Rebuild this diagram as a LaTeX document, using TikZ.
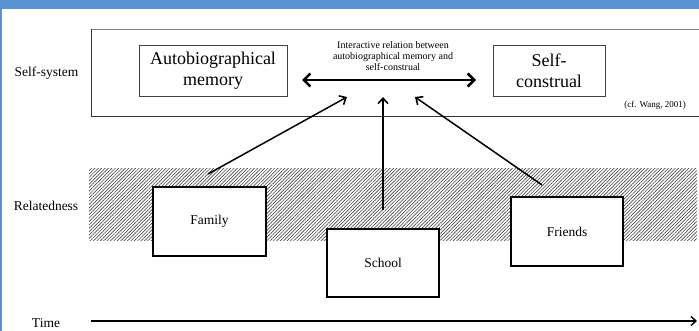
\documentclass[tikz,border=0pt]{standalone}
\usepackage{fontspec}
\setmainfont{Liberation Serif}
\usetikzlibrary{arrows.meta,patterns.meta}
\definecolor{frameblue}{RGB}{90,147,212}
\tikzset{
  lbl/.style={font=\fontsize{13.5}{16}\selectfont, inner sep=0pt},
  bigbox/.style={draw=black!75, line width=0.8pt, fill=white, font=\fontsize{18}{21}\selectfont, align=center, inner sep=0pt},
  ctxbox/.style={draw=black, line width=2pt, fill=white, font=\fontsize{13.5}{16}\selectfont, inner sep=0pt},
  infl/.style={line width=1.5pt, -{Straight Barb[length=5.5pt,width=10pt,line width=1.6pt]}},
  inter/.style={line width=2.8pt, {Straight Barb[length=6.5pt,width=13pt,line width=2.6pt]}-{Straight Barb[length=6.5pt,width=13pt,line width=2.6pt]}}
}
\begin{document}
\begin{tikzpicture}[x=1pt,y=-1pt]
\useasboundingbox (0,0) rectangle (699,331);
\fill[white] (0,0) rectangle (699,331);
\fill[frameblue] (0,0) rectangle (699,9);
\fill[frameblue] (0,0) rectangle (2,331);
% self-system frame (open on the right)
\draw[black!50, line width=0.9pt] (699,29) -- (91,29);
\draw[black!80, line width=0.9pt] (91,29) -- (91,116) -- (699,116);
% relatedness band
\node[minimum width=608pt, minimum height=72pt, inner sep=0pt,
      pattern={Lines[angle=45,distance=2.4pt,line width=0.65pt]}, pattern color=black!70]
      (band) at (393,205) {};
% labels
\node[lbl] (ss) at (46.5,73) {Self-system};
\node[lbl] (rel) at (46,206) {Relatedness};
\node[lbl] (time) at (46,323) {Time};
% self-system boxes
\node[bigbox, minimum width=148pt, minimum height=51pt] (am) at (213,70.5) {Autobiographical\\memory};
\node[bigbox, minimum width=112pt, minimum height=51pt] (sc) at (549,70.5) {Self-\\construal};
\node[font=\fontsize{10}{11}\selectfont, align=center, inner sep=0pt] (it) at (393,56)
  {Interactive relation between\\autobiographical memory and\\self-construal};
\node[font=\fontsize{9}{11}\selectfont, anchor=east, inner sep=0pt] (cite) at (686,105) {(cf. Wang, 2001)};
% interaction arrow
\coordinate (il) at (302,80);
\coordinate (ir) at (476,80);
\draw[inter] (il) -- (ir);
% context boxes
\node[ctxbox, minimum width=113pt, minimum height=69pt] (fam) at (209.5,221.5) {Family};
\node[ctxbox, minimum width=112pt, minimum height=68pt] (sch) at (383,263) {School};
\node[ctxbox, minimum width=112pt, minimum height=69pt] (fri) at (567,231.5) {Friends};
% influence arrows
\coordinate (fs) at (208,174);
\coordinate (ft) at (347,97);
\coordinate (ss0) at (383,210);
\coordinate (st) at (383,97);
\coordinate (rs) at (542,185);
\coordinate (rt) at (415,97);
\draw[infl] (fs) -- (ft);
\draw[infl] (ss0) -- (st);
\draw[infl] (rs) -- (rt);
% time arrow
\coordinate (t0) at (91,321);
\coordinate (t1) at (697,321);
\draw[line width=1.4pt, -{Straight Barb[length=5pt,width=9pt,line width=1.4pt]}] (t0) -- (t1);
\end{tikzpicture}
\end{document}
